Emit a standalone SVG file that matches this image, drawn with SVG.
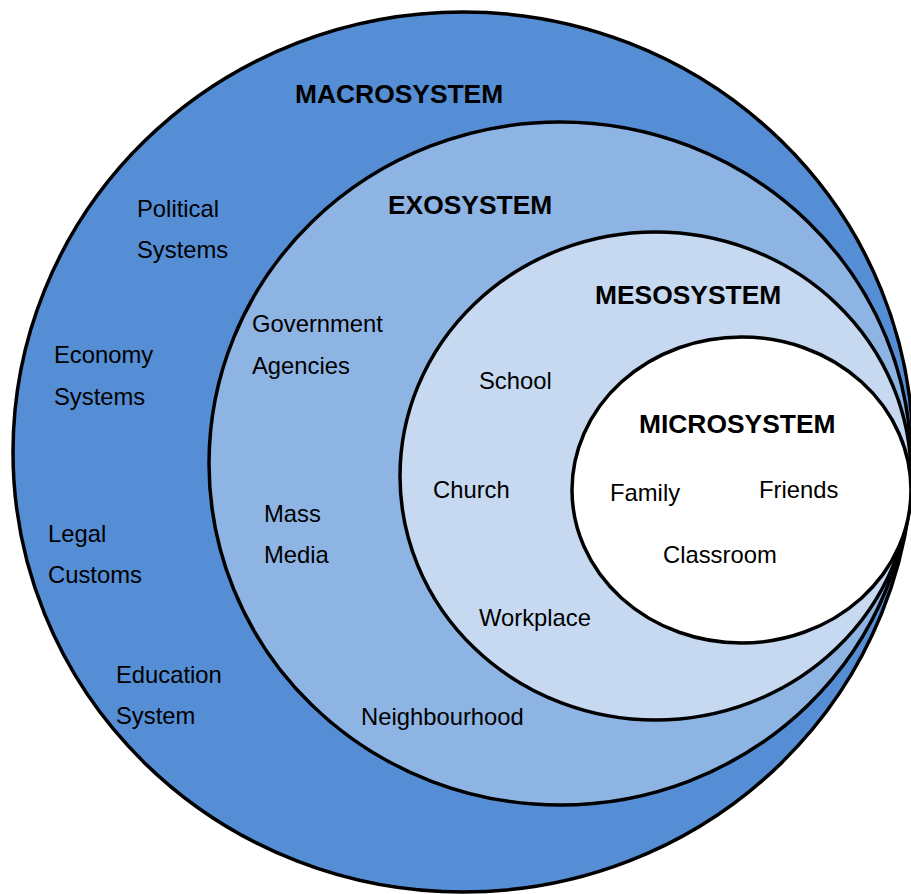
<svg xmlns="http://www.w3.org/2000/svg" width="911" height="894" viewBox="0 0 911 894">
<style>
.ring{stroke:#000;stroke-width:3.5}
.t{font-family:"Liberation Sans",Arial,sans-serif;font-size:23.8px;fill:#000}
.h{font-family:"Liberation Sans",Arial,sans-serif;font-size:26.4px;font-weight:bold;fill:#000}
</style>
<rect width="911" height="894" fill="#fff"/>
<g id="macrosystem">
<ellipse class="ring" cx="463" cy="452" rx="450" ry="440" fill="#558ED5"/>
<text class="h" x="295" y="103">MACROSYSTEM</text>
<text class="t" x="137" y="217">Political</text>
<text class="t" x="137" y="258">Systems</text>
<text class="t" x="54" y="363">Economy</text>
<text class="t" x="54" y="405">Systems</text>
<text class="t" x="48" y="542">Legal</text>
<text class="t" x="48" y="583">Customs</text>
<text class="t" x="116" y="683">Education</text>
<text class="t" x="116" y="724">System</text>
</g>
<g id="exosystem">
<ellipse class="ring" cx="560" cy="463.5" rx="351" ry="341.5" fill="#8EB4E3"/>
<text class="h" x="388" y="214">EXOSYSTEM</text>
<text class="t" x="252" y="332">Government</text>
<text class="t" x="252" y="374">Agencies</text>
<text class="t" x="264" y="522">Mass</text>
<text class="t" x="264" y="563">Media</text>
<text class="t" x="361" y="725">Neighbourhood</text>
</g>
<g id="mesosystem">
<ellipse class="ring" cx="655.5" cy="476" rx="255.5" ry="244" fill="#C6D9F1"/>
<text class="h" x="595" y="304">MESOSYSTEM</text>
<text class="t" x="479" y="389">School</text>
<text class="t" x="433" y="498">Church</text>
<text class="t" x="479" y="626">Workplace</text>
</g>
<g id="microsystem">
<ellipse class="ring" cx="741.5" cy="490" rx="169.5" ry="153" fill="#fff"/>
<text class="h" x="639" y="433">MICROSYSTEM</text>
<text class="t" x="610" y="501">Family</text>
<text class="t" x="759" y="498">Friends</text>
<text class="t" x="663" y="563">Classroom</text>
</g>
<g id="connectors"></g>
</svg>
